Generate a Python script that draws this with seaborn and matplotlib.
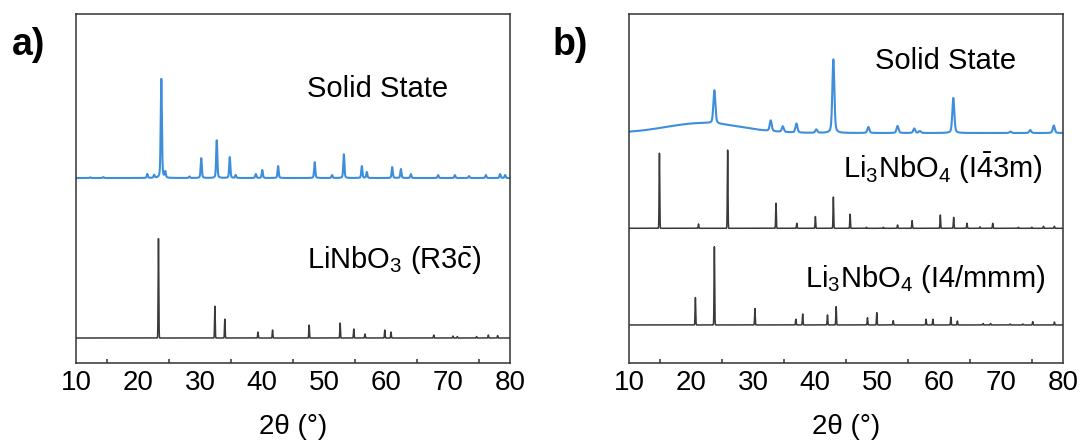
import numpy as np
import pandas as pd
import matplotlib
matplotlib.use("Agg")
import matplotlib.pyplot as plt
import seaborn as sns

# ---------------- data: reflection lists (2theta in degrees, relative intensity) ----------------
# panel a) solid-state LiNbO3 product
a_ss_pos = [12.3, 14.4, 21.5, 22.6, 23.76, 24.4, 28.3, 30.2, 32.7, 34.8, 35.75, 39.0, 40.05,
            42.6, 48.5, 51.3, 53.2, 56.1, 56.9, 61.0, 62.4, 64.0, 68.4, 71.1, 73.4, 76.1, 78.4, 79.2]
a_ss_int = [0.7, 1, 4, 3, 100, 6, 1.5, 20, 38, 21, 3, 4, 8,
            12, 16, 3, 24, 12, 6, 11, 9, 4, 3, 3, 2, 3, 4, 3]

# panel a) reference LiNbO3 (R3c)
a_ref_pos = [23.3, 32.4, 34.0, 39.35, 41.7, 47.6, 52.6, 54.8, 56.6, 59.8, 60.8,
             67.7, 70.8, 71.5, 74.6, 76.5, 78.0]
a_ref_int = [100, 32, 19, 6, 8, 13, 15, 9, 4, 8, 6, 3, 2, 1.5, 1.5, 3, 2.5]

# panel b) solid-state Li3NbO4 product
b_ss_pos = [23.76, 32.85, 34.8, 37.0, 40.2, 42.95, 48.6, 53.3, 56.0, 56.9, 62.3, 71.5, 74.7, 78.5]
b_ss_int = [45, 14.5, 7.7, 12.2, 4.7, 100, 8.1, 9.5, 6.1, 2.7, 47.5, 2, 4, 10.2]
b_ss_hump = [22.0, 13.6, 6.0]   # amorphous background: centre, intensity, sigma

# panel b) reference Li3NbO4 (I-43m)
b_cub_pos = [14.9, 21.2, 25.9, 33.7, 37.05, 40.05, 42.95, 45.65, 48.3, 51.0, 53.3, 55.65,
             60.2, 62.35, 64.5, 66.6, 68.65, 72.8, 74.95, 76.85, 78.6]
b_cub_int = [96, 5.5, 100, 32, 6.4, 15, 40, 18, 1.3, 1.3, 4.2, 9.8,
             17, 14, 6.4, 1.9, 6.4, 1.3, 1.3, 2.6, 2.6]

# panel b) reference Li3NbO4 (I4/mmm)
b_tet_pos = [20.7, 23.76, 30.3, 36.9, 38.0, 42.0, 43.4, 48.45, 49.95, 52.6, 57.9, 59.0,
             61.9, 62.95, 67.1, 68.3, 71.45, 73.5, 75.1, 78.6]
b_tet_int = [35, 100, 21, 7.3, 14, 12.8, 23.4, 9.3, 15.7, 5.5, 7.3, 7.3,
             9.8, 5.1, 1.9, 1.9, 1.3, 1.3, 4.2, 3.8]

x_ticks = [10, 20, 30, 40, 50, 60, 70, 80]

# ---------------- profile construction ----------------
tt = np.arange(10.0, 80.0001, 0.005)


def pattern(pos, inten, fwhm, eta):
    """pseudo-Voigt sum of reflections, eta = Lorentzian fraction"""
    y = np.zeros_like(tt)
    s = fwhm / 2.3548
    g = fwhm / 2.0
    for p, h in zip(pos, inten):
        gauss = np.exp(-0.5 * ((tt - p) / s) ** 2)
        lor = 1.0 / (1.0 + ((tt - p) / g) ** 2)
        y += h * ((1 - eta) * gauss + eta * lor)
    return y


a_ss = pattern(a_ss_pos, a_ss_int, 0.22, 0.4)
a_ref = pattern(a_ref_pos, a_ref_int, 0.12, 0.0)
b_ss = pattern(b_ss_pos, b_ss_int, 0.38, 0.4)
b_ss += b_ss_hump[1] * np.exp(-0.5 * ((tt - b_ss_hump[0]) / b_ss_hump[2]) ** 2)
b_cub = pattern(b_cub_pos, b_cub_int, 0.12, 0.0)
b_tet = pattern(b_tet_pos, b_tet_int, 0.12, 0.0)

# stacking: (offset, scale) in axis units (0..100)
df_a = pd.DataFrame({
    "tt": np.concatenate([tt, tt]),
    "I": np.concatenate([53.0 + a_ss * 0.284, 7.16 + a_ref * 0.2845]),
    "trace": ["ss"] * len(tt) + ["ref"] * len(tt),
})
df_b = pd.DataFrame({
    "tt": np.concatenate([tt, tt, tt]),
    "I": np.concatenate([65.9 + b_ss * 0.211, 38.6 + b_cub * 0.224, 10.9 + b_tet * 0.224]),
    "trace": ["ss"] * len(tt) + ["cub"] * len(tt) + ["tet"] * len(tt),
})

# ---------------- styling ----------------
sns.set_style("white")
plt.rcParams["font.family"] = ["Liberation Sans", "DejaVu Sans"]
plt.rcParams["mathtext.fontset"] = "custom"
plt.rcParams["mathtext.rm"] = "Liberation Sans"
plt.rcParams["mathtext.it"] = "Liberation Sans:italic"
plt.rcParams["mathtext.bf"] = "Liberation Sans:bold"
plt.rcParams["text.color"] = "black"
plt.rcParams["axes.labelcolor"] = "black"
plt.rcParams["xtick.color"] = "black"
plt.rcParams["xtick.labelcolor"] = "black"

BLUE = "#3d8fdc"
GREY = "#3a3a3a"

fig = plt.figure(figsize=(10.84, 4.46), dpi=100)
ax_a = fig.add_axes([0.0701, 0.1861, 0.4004, 0.7825])
ax_b = fig.add_axes([0.5803, 0.1861, 0.4004, 0.7825])

sns.lineplot(data=df_a, x="tt", y="I", hue="trace", palette={"ss": BLUE, "ref": GREY},
             estimator=None, sort=False, legend=False, ax=ax_a)
sns.lineplot(data=df_b, x="tt", y="I", hue="trace",
             palette={"ss": BLUE, "cub": GREY, "tet": GREY},
             estimator=None, sort=False, legend=False, ax=ax_b)

for ax in (ax_a, ax_b):
    for ln in ax.get_lines():
        ln.set_linewidth(1.5 if ln.get_color() == BLUE else 1.1)
    ax.set_xlim(10, 80)
    ax.set_ylim(0, 100)
    ax.set_xticks(x_ticks)
    ax.set_xticks(np.arange(15, 80, 10), minor=True)
    ax.set_yticks([])
    ax.tick_params(axis="x", which="major", direction="in", length=6, width=1.1,
                   color="#333333", labelsize=20, labelcolor="black", pad=5)
    ax.tick_params(axis="x", which="minor", direction="in", length=3, width=1.1,
                   color="#333333", bottom=True)
    ax.tick_params(axis="x", top=False)
    ax.set_xlabel("2θ (°)", fontsize=20, labelpad=13, color="black")
    ax.set_ylabel("")
    for sp in ax.spines.values():
        sp.set_visible(True)
        sp.set_linewidth(1.1)
        sp.set_color("#333333")

# curve labels
ax_a.text(0.532, 0.762, "Solid State", transform=ax_a.transAxes, fontsize=21,
          ha="left", va="baseline")
ax_a.text(0.532, 0.271, r"LiNbO$_3$ (R3$\bar{\mathrm{c}}$)", transform=ax_a.transAxes,
          fontsize=21, ha="left", va="baseline")
ax_b.text(0.567, 0.842, "Solid State", transform=ax_b.transAxes, fontsize=21,
          ha="left", va="baseline")
ax_b.text(0.954, 0.529, r"Li$_3$NbO$_4$ (I$\bar{4}$3m)", transform=ax_b.transAxes,
          fontsize=21, ha="right", va="baseline")
ax_b.text(0.959, 0.217, r"Li$_3$NbO$_4$ (I4/mmm)", transform=ax_b.transAxes,
          fontsize=21, ha="right", va="baseline")

# panel letters
fig.text(0.0111, 0.8767, "a)", fontsize=27, fontweight="bold", ha="left", va="baseline")
fig.text(0.5101, 0.8767, "b)", fontsize=27, fontweight="bold", ha="left", va="baseline")

fig.savefig("out.png", dpi=100)
